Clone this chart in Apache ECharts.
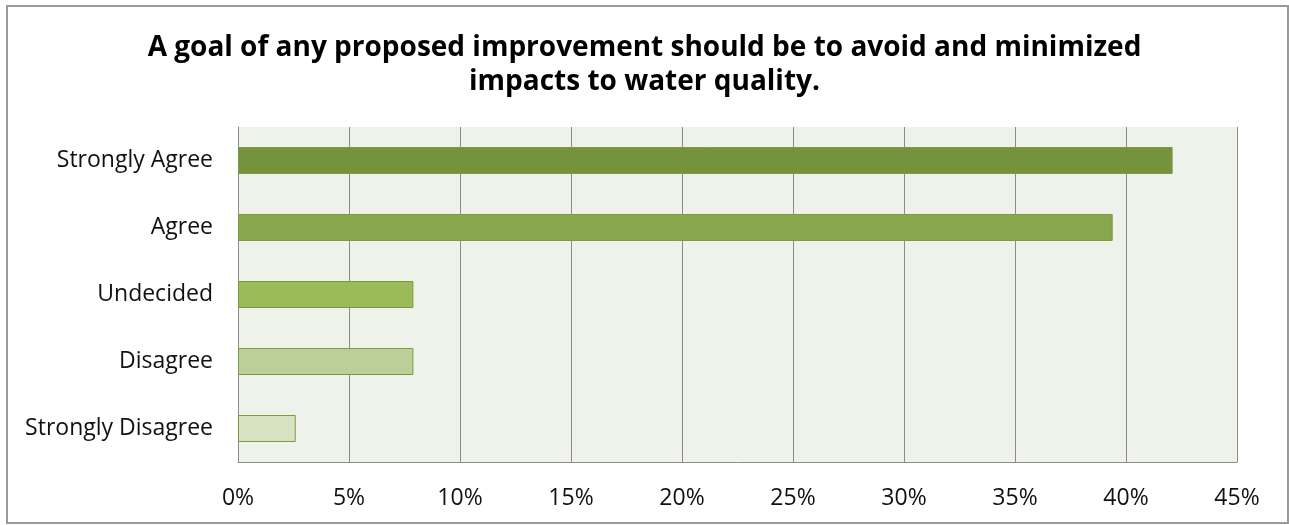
<!DOCTYPE html>
<html><head><meta charset="utf-8">
<script src="https://cdn.jsdelivr.net/npm/echarts@6/dist/echarts.min.js"></script>
<style>html,body{margin:0;padding:0;background:#fff}#c{width:1289px;height:525px}</style>
</head><body><div id="c"></div>
<script>
const categories = ['Strongly Agree','Agree','Undecided','Disagree','Strongly Disagree'];
const values = [42.1, 39.4, 7.9, 7.9, 2.6];
const barColors = ['#76923C','#88A64E','#9BBB59','#BCCF98','#D6E2C2'];
const tickValues = [0,5,10,15,20,25,30,35,40,45];
const titleText = 'A goal of any proposed improvement should be to avoid and minimized\nimpacts to water quality.';

const chart = echarts.init(document.getElementById('c'), null, {renderer:'canvas'});
chart.setOption({
  animation:false,
  backgroundColor:'#fff',
  graphic:[{type:'rect',shape:{x:7,y:6,width:1281,height:517},style:{fill:'none',stroke:'#9a9a9a',lineWidth:2},silent:true}],
  title:{text:titleText,left:'center',top:26,textStyle:{fontFamily:'Open Sans',fontWeight:'bold',fontSize:28,lineHeight:34,color:'#000'}},
  grid:{left:238,right:52,top:127,bottom:63,backgroundColor:'#EFF2EA',show:true,borderWidth:0},
  xAxis:{type:'value',min:0,max:45,interval:5,
    axisLine:{show:true,lineStyle:{color:'#8c8c8c',width:1}},
    axisTick:{show:false},
    splitLine:{show:true,lineStyle:{color:'#8c8c8c',width:1}},
    axisLabel:{formatter:v=>v+'%',fontFamily:'Open Sans',fontSize:23,color:'#111',margin:25}},
  yAxis:{type:'category',inverse:true,data:categories,
    axisLine:{show:true,lineStyle:{color:'#8c8c8c'}},axisTick:{show:false},
    axisLabel:{fontFamily:'Open Sans',fontSize:23,color:'#111',margin:25}},
  series:[{type:'bar',barWidth:27,
    data:values.map((v,i)=>({value:v,itemStyle:{color:barColors[i],borderColor:'#7A9A44',borderWidth:1}}))}]
});
</script></body></html>
